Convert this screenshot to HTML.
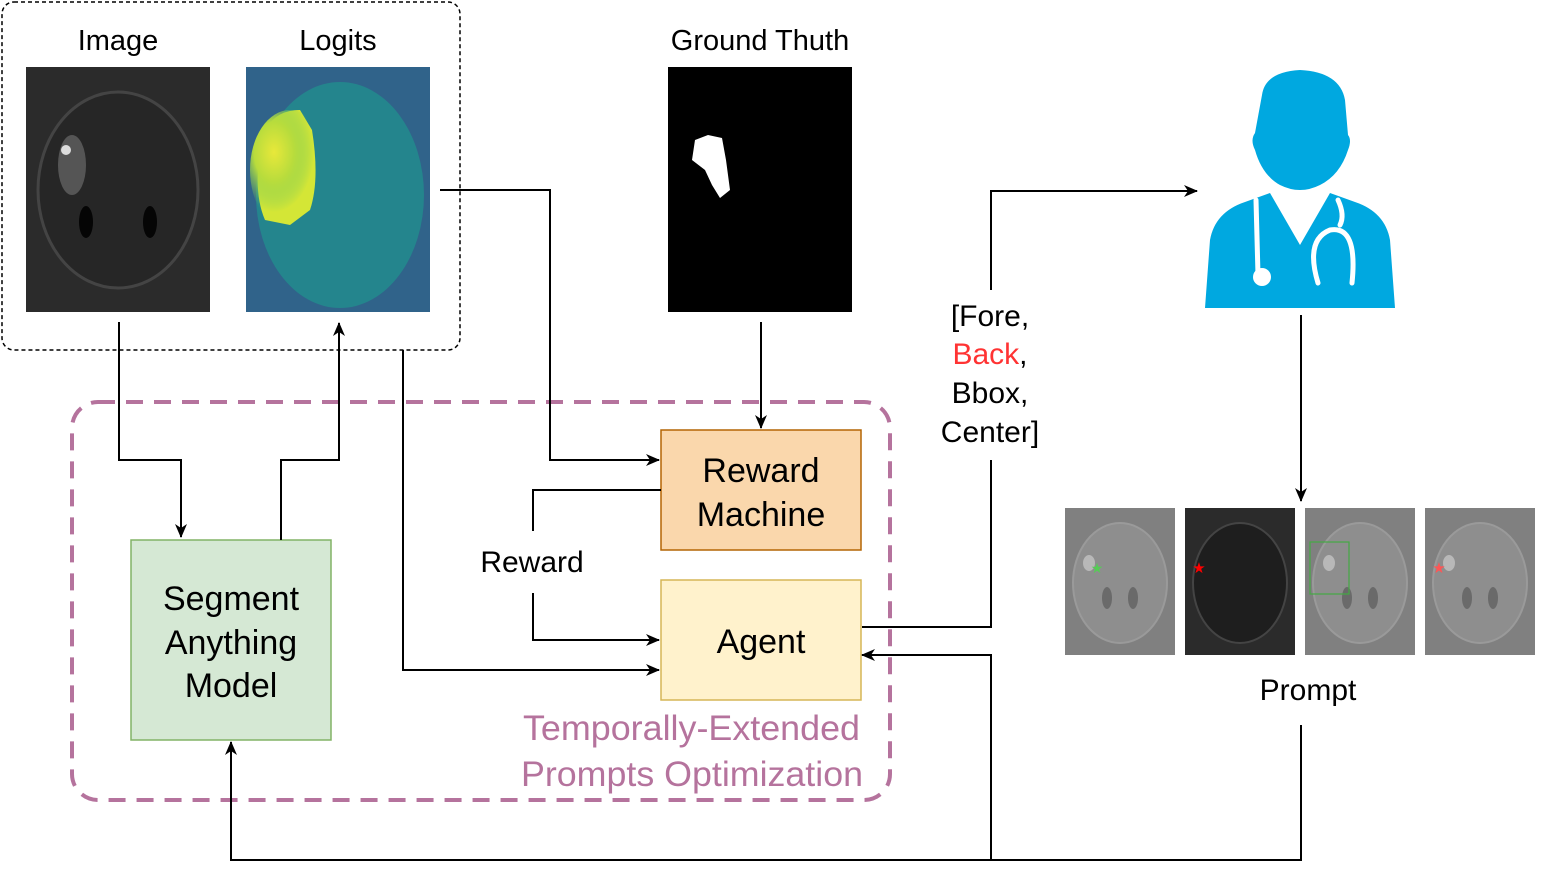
<!DOCTYPE html>
<html><head><meta charset="utf-8"><style>
html,body{margin:0;padding:0;background:#fff;}
svg{display:block;font-family:"Liberation Sans",sans-serif;}
</style></head><body>
<svg width="1542" height="878" viewBox="0 0 1542 878" xmlns="http://www.w3.org/2000/svg">
<defs>
<marker id="a" markerWidth="14" markerHeight="14" refX="13" refY="7" orient="auto" markerUnits="userSpaceOnUse" viewBox="0 0 14 14">
<path d="M0,1 L14,7 L0,13 L4,7 Z" fill="#000"/></marker>
<radialGradient id="lg" cx="0.3" cy="0.35" r="0.5">
<stop offset="0" stop-color="#e8e83a"/><stop offset="0.5" stop-color="#b8dc3c"/><stop offset="1" stop-color="#6cc860" stop-opacity="0"/></radialGradient>
<g id="brain">
<ellipse cx="55" cy="75" rx="47" ry="60" fill="#8e8e8e" stroke="#9a9a9a" stroke-width="2"/>
<ellipse cx="42" cy="90" rx="5" ry="11" fill="#6a6a6a"/>
<ellipse cx="68" cy="90" rx="5" ry="11" fill="#6a6a6a"/>
<ellipse cx="24" cy="55" rx="6" ry="8" fill="#b8b8b8"/>
</g>
</defs>

<rect x="2" y="2" width="458" height="348" rx="12" fill="none" stroke="#000" stroke-width="1.5" stroke-dasharray="4 3"/>
<text x="118" y="50" font-size="29" text-anchor="middle">Image</text>
<text x="338" y="50" font-size="29" text-anchor="middle">Logits</text>
<rect x="26" y="67" width="184" height="245" fill="#2b2b2b"/>
<ellipse cx="118" cy="190" rx="80" ry="98" fill="#262626" stroke="#444" stroke-width="3"/>
<ellipse cx="72" cy="165" rx="14" ry="30" fill="#6a6a6a" opacity="0.7"/>
<circle cx="66" cy="150" r="5" fill="#ddd"/>
<ellipse cx="86" cy="222" rx="7" ry="16" fill="#050505"/>
<ellipse cx="150" cy="222" rx="7" ry="16" fill="#050505"/>
<rect x="246" y="67" width="184" height="245" fill="#30638a"/>
<ellipse cx="340" cy="195" rx="84" ry="113" fill="#23888d" opacity="0.9"/>
<path d="M262,140 Q270,110 300,110 L312,130 Q320,180 310,210 L290,225 L265,220 Q252,190 262,140 Z" fill="#d4e636"/>
<ellipse cx="290" cy="170" rx="40" ry="60" fill="url(#lg)"/>

<text x="760" y="50" font-size="29" text-anchor="middle">Ground Thuth</text>
<rect x="668" y="67" width="184" height="245" fill="#000"/>
<path d="M695,140 L708,135 L722,138 L726,160 L730,190 L720,198 L712,185 L705,170 L692,160 Z" fill="#fff"/>

<rect x="72" y="402" width="818" height="398" rx="26" fill="none" stroke="#b5739d" stroke-width="4" stroke-dasharray="17 11"/>

<rect x="131" y="540" width="200" height="200" fill="#d5e8d4" stroke="#82b366" stroke-width="1.5"/>
<text x="231" y="610" font-size="34" text-anchor="middle">Segment</text>
<text x="231" y="654" font-size="34" text-anchor="middle">Anything</text>
<text x="231" y="697" font-size="34" text-anchor="middle">Model</text>

<rect x="661" y="430" width="200" height="120" fill="#fad7ac" stroke="#b46504" stroke-width="1.5"/>
<text x="761" y="482" font-size="34" text-anchor="middle">Reward</text>
<text x="761" y="526" font-size="34" text-anchor="middle">Machine</text>
<rect x="661" y="580" width="200" height="120" fill="#fff2cc" stroke="#d6b656" stroke-width="1.5"/>
<text x="761" y="653" font-size="34" text-anchor="middle">Agent</text>

<text x="523" y="740" font-size="35" fill="#b5739d" textLength="337" lengthAdjust="spacingAndGlyphs">Temporally-Extended</text>
<text x="521" y="786" font-size="35" fill="#b5739d" textLength="342" lengthAdjust="spacingAndGlyphs">Prompts Optimization</text>

<text x="532" y="572" font-size="30" text-anchor="middle">Reward</text>

<text x="990" y="326" font-size="30" text-anchor="middle">[Fore,</text>
<text x="990" y="364" font-size="30" text-anchor="middle"><tspan fill="#ff3333">Back</tspan>,</text>
<text x="990" y="403" font-size="30" text-anchor="middle">Bbox,</text>
<text x="990" y="442" font-size="30" text-anchor="middle">Center]</text>

<g fill="#00a8e0">
<path d="M1262,95 Q1265,72 1300,70 Q1340,72 1345,100 L1348,135 Q1352,140 1348,150 Q1340,175 1320,185 Q1300,195 1280,185 Q1262,175 1255,150 Q1250,140 1255,133 Z"/>
<path d="M1245,202 L1270,193 L1300,245 L1330,193 L1355,202 Q1385,212 1390,240 L1395,308 L1205,308 L1210,240 Q1215,212 1245,202 Z"/>
</g>
<g fill="none" stroke="#fff" stroke-width="5" stroke-linecap="round">
<path d="M1256,200 L1258,275"/>
<path d="M1338,200 Q1345,215 1340,225"/>
<path d="M1318,283 Q1305,240 1330,230 Q1358,225 1352,283"/>
</g>
<circle cx="1262" cy="277" r="9" fill="#fff"/>

<g>
<rect x="1065" y="508" width="110" height="147" fill="#808080"/>
<use href="#brain" x="1065" y="508"/>
<text x="1097" y="573" font-size="14" fill="#5c5" text-anchor="middle">★</text>
<rect x="1185" y="508" width="110" height="147" fill="#2b2b2b"/>
<ellipse cx="1240" cy="583" rx="47" ry="60" fill="#1e1e1e" stroke="#444" stroke-width="2"/>
<text x="1199" y="573" font-size="15" fill="#f00" text-anchor="middle">★</text>
<rect x="1305" y="508" width="110" height="147" fill="#808080"/>
<use href="#brain" x="1305" y="508"/>
<rect x="1310" y="542" width="39" height="52" fill="none" stroke="#4a4" stroke-width="1.2"/>
<rect x="1425" y="508" width="110" height="147" fill="#808080"/>
<use href="#brain" x="1425" y="508"/>
<text x="1439" y="573" font-size="15" fill="#f55" text-anchor="middle">★</text>
</g>
<text x="1308" y="700" font-size="30" text-anchor="middle">Prompt</text>

<g fill="none" stroke="#000" stroke-width="2">
<path d="M119,322 V460 H181 V537" marker-end="url(#a)"/>
<path d="M281,540 V460 H339 V323" marker-end="url(#a)"/>
<path d="M440,190 H550 V460 H659" marker-end="url(#a)"/>
<path d="M403,350 V670 H659" marker-end="url(#a)"/>
<path d="M761,322 V428" marker-end="url(#a)"/>
<path d="M661,490 H533 V531"/>
<path d="M533,593 V640 H659" marker-end="url(#a)"/>
<path d="M862,627 H991 V460"/>
<path d="M991,290 V191 H1197" marker-end="url(#a)"/>
<path d="M1301,315 V501" marker-end="url(#a)"/>
<path d="M1301,725 V860 H231 V742" marker-end="url(#a)"/>
<path d="M991,860 V655 H862" marker-end="url(#a)"/>
</g>
</svg>
</body></html>
